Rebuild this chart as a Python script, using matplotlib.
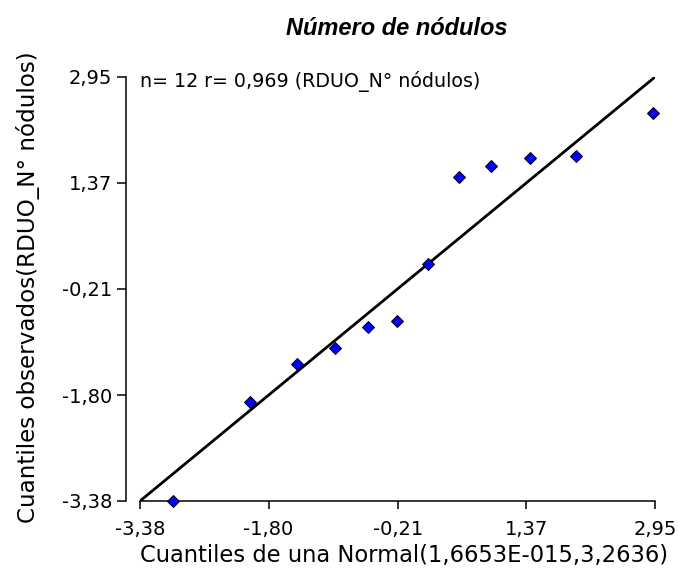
import numpy as np
import matplotlib
matplotlib.use("Agg")
from matplotlib import pyplot as plt

theoretical_q = [-2.97, -2.03, -1.45, -0.98, -0.58, -0.22, 0.16, 0.535, 0.94, 1.41, 1.98, 2.93]
observed_q = [-3.38, -1.90, -1.33, -1.09, -0.78, -0.69, 0.16, 1.46, 1.62, 1.74, 1.77, 2.41]

# reference line end points (y = x over the axis range)
line_x = [-3.38, 2.95]
line_y = [-3.38, 2.95]

tick_values = [-3.38, -1.80, -0.21, 1.37, 2.95]
tick_labels = ["-3,38", "-1,80", "-0,21", "1,37", "2,95"]

title_text = "Número de nódulos"
note_text = "n= 12 r= 0,969 (RDUO_N° nódulos)"
x_label = "Cuantiles de una Normal(1,6653E-015,3,2636)"
y_label = "Cuantiles observados(RDUO_N° nódulos)"

W, H = 678, 579
fig = plt.figure(figsize=(W / 100, H / 100), dpi=100)
fig.patch.set_facecolor("white")

# plot area in pixels: x 140..655, y 77..501
ax = fig.add_axes([140 / W, 1 - 501 / H, (655 - 140) / W, (501 - 77) / H])

ax.plot(line_x, line_y, color="black", lw=2.0, solid_capstyle="butt", zorder=2)
ax.plot(theoretical_q, observed_q, linestyle="none", marker="D", markersize=6.0,
        markerfacecolor="#0000ff", markeredgecolor="black", markeredgewidth=0.7,
        clip_on=False, zorder=3)

ax.set_xlim(tick_values[0], tick_values[-1])
ax.set_ylim(tick_values[0], tick_values[-1])

ax.set_xticks(tick_values)
ax.set_xticklabels(tick_labels)
ax.set_yticks(tick_values)
ax.set_yticklabels(tick_labels)

for side in ["top", "right"]:
    ax.spines[side].set_visible(False)
for side in ["left", "bottom"]:
    ax.spines[side].set_linewidth(1.1)
ax.spines["left"].set_position(("outward", 10))

ax.tick_params(axis="both", direction="out", width=1.1, labelsize=14,
               colors="black")
ax.tick_params(axis="x", length=6, pad=8)
ax.tick_params(axis="y", length=6.5, pad=3.5)
for lab in ax.get_xticklabels() + ax.get_yticklabels():
    lab.set_fontfamily("DejaVu Sans")

ax.annotate(note_text, xy=(0, 1), xycoords="axes fraction", xytext=(0, -7),
            textcoords="offset points", ha="left", va="baseline",
            fontsize=13.7, family="DejaVu Sans")

fig.text(397 / W, 1 - 35 / H, title_text, ha="center", va="baseline",
         fontsize=17, fontweight="bold", fontstyle="italic",
         family="Liberation Sans")
fig.text(404.5 / W, 1 - 562 / H, x_label, ha="center", va="baseline",
         fontsize=16.3, family="DejaVu Sans")
fig.text(28 / W, 1 - 287 / H, y_label, ha="center", va="center", rotation=90,
         fontsize=16.6, family="DejaVu Sans")

fig.savefig("out.png", dpi=100, facecolor="white")
